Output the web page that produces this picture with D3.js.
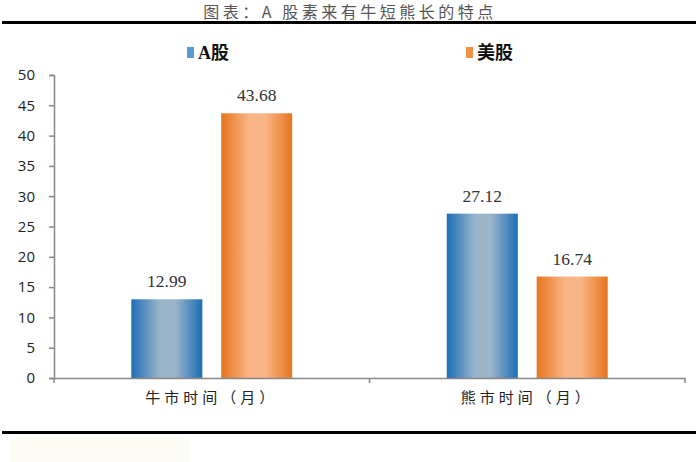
<!DOCTYPE html>
<html><head><meta charset="utf-8">
<script src="https://cdnjs.cloudflare.com/ajax/libs/d3/7.8.5/d3.min.js"></script>
<style>html,body{margin:0;padding:0;background:#fff;}svg{display:block;}</style>
</head><body>
<svg id="chart" width="700" height="462"></svg>
<script>
const categories = ["牛市时间（月）", "熊市时间（月）"];
const seriesNames = ["A股", "美股"];
const aShares = [12.99, 27.12];
const usShares = [43.68, 16.74];
const yTicks = [0, 5, 10, 15, 20, 25, 30, 35, 40, 45, 50];
const title = "图表：A 股素来有牛短熊长的特点";

const svg = d3.select("#chart");
const plot = {left: 54, right: 685, top: 75, bottom: 378};

const defs = svg.append("defs");
function grad(id, edge, mid) {
  const g = defs.append("linearGradient").attr("id", id).attr("x1", "0%").attr("x2", "100%").attr("y1", "0%").attr("y2", "0%");
  g.append("stop").attr("offset", "0%").attr("stop-color", edge);
  g.append("stop").attr("offset", "40%").attr("stop-color", mid);
  g.append("stop").attr("offset", "62%").attr("stop-color", mid);
  g.append("stop").attr("offset", "100%").attr("stop-color", edge);
}
grad("gBlue", "#1c6db5", "#9bb6cb");
grad("gOrange", "#e6761d", "#f9b585");
const fills = ["url(#gBlue)", "url(#gOrange)"];
const swatch = ["#5b9bd5", "#f0924a"];

// title and frame lines
svg.append("text").attr("x", 350).attr("y", 18).attr("text-anchor", "middle")
  .attr("font-family", "'Noto Sans CJK SC', sans-serif").attr("font-size", 16)
  .attr("fill", "#555").attr("letter-spacing", 3.5).text(title);
svg.append("rect").attr("x", 2).attr("y", 21).attr("width", 694).attr("height", 3).attr("fill", "#000");
svg.append("rect").attr("x", 2).attr("y", 431).attr("width", 694).attr("height", 3).attr("fill", "#000");
svg.append("rect").attr("x", 10).attr("y", 438).attr("width", 180).attr("height", 24).attr("fill", "#fdfcf4");

const x0 = d3.scaleBand().domain(categories).range([plot.left, plot.right]).paddingInner(0).paddingOuter(0);
const x1 = d3.scaleBand().domain(seriesNames).range([0, x0.bandwidth()]).paddingInner(0.21).paddingOuter(0.86);
const y = d3.scaleLinear().domain([0, 50]).range([plot.bottom, plot.top]);

// y axis
const yAxis = svg.append("g").attr("transform", `translate(${plot.left},0)`)
  .call(d3.axisLeft(y).tickValues(yTicks).tickSize(5).tickPadding(14));
yAxis.select(".domain").attr("stroke", "#888").attr("stroke-width", 1.5);
yAxis.selectAll(".tick line").attr("stroke", "#888").attr("stroke-width", 1.5);
yAxis.selectAll(".tick text").attr("font-family", "'Open Sans', 'Liberation Sans', sans-serif")
  .attr("font-size", 15).attr("fill", "#222");

// bars
const rows = categories.map((c, i) => ({cat: c, vals: [aShares[i], usShares[i]]}));
const groups = svg.selectAll(".grp").data(rows).join("g").attr("transform", d => `translate(${x0(d.cat)},0)`);
groups.selectAll("rect").data(d => d.vals.map((v, j) => ({v, s: seriesNames[j], j})))
  .join("rect")
  .attr("x", d => x1(d.s)).attr("width", x1.bandwidth())
  .attr("y", d => y(d.v)).attr("height", d => y(0) - y(d.v))
  .attr("fill", d => fills[d.j]);
groups.selectAll("text.val").data(d => d.vals.map((v, j) => ({v, s: seriesNames[j], j})))
  .join("text").attr("class", "val")
  .attr("x", d => x1(d.s) + x1.bandwidth() / 2).attr("y", d => y(d.v) - 12)
  .attr("text-anchor", "middle").attr("font-family", "'Liberation Serif', serif")
  .attr("font-size", 17.5).attr("fill", "#333").text(d => d.v.toFixed(2));

// x axis
const xAxis = svg.append("g").attr("transform", `translate(0,${plot.bottom})`)
  .call(d3.axisBottom(x0).tickSize(0).tickPadding(14));
xAxis.select(".domain").attr("stroke", "#888").attr("stroke-width", 1.5);
xAxis.selectAll(".tick text").attr("font-family", "'Noto Sans CJK SC', sans-serif")
  .attr("font-size", 15).attr("fill", "#222").attr("letter-spacing", 4);
const bounds = [plot.left, x0(categories[1]), plot.right];
xAxis.selectAll("line.sep").data(bounds).join("line").attr("class", "sep")
  .attr("x1", d => d).attr("x2", d => d).attr("y1", 0).attr("y2", 5)
  .attr("stroke", "#888").attr("stroke-width", 1.5);

// legend
const legendX = [187, 466];
const leg = svg.selectAll(".leg").data(seriesNames).join("g").attr("transform", (d, i) => `translate(${legendX[i]},47)`);
leg.append("rect").attr("width", 7).attr("height", 11).attr("fill", (d, i) => swatch[i]);
leg.append("text").attr("x", 11).attr("y", 12).attr("font-family", "'Liberation Serif', 'Noto Sans CJK SC', serif")
  .attr("font-weight", "bold").attr("font-size", 18).attr("fill", "#111").text(d => d);
</script>
</body></html>
